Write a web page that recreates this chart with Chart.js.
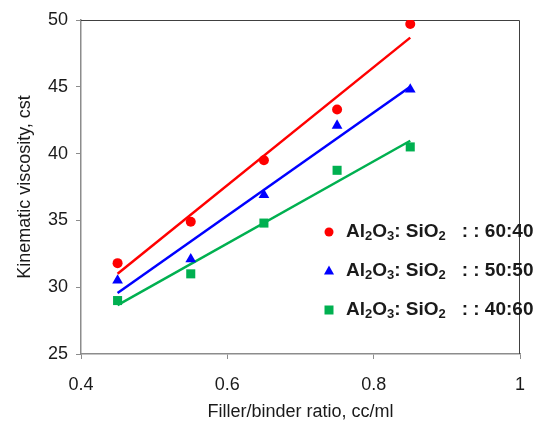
<!DOCTYPE html>
<html><head><meta charset="utf-8">
<script src="https://cdn.jsdelivr.net/npm/chart.js@4.4.0/dist/chart.umd.min.js"></script>
<style>html,body{margin:0;padding:0;background:#fff}#wrap{width:560px;height:423px}</style>
</head><body><div id="wrap"><canvas id="c" width="560" height="423"></canvas></div>
<script>
const xValues = [0.45, 0.55, 0.65, 0.75, 0.85];
const series6040 = [31.8, 34.9, 39.5, 43.3, 49.7];
const series5050 = [30.5, 32.1, 36.9, 42.1, 44.8];
const series4060 = [29.0, 31.0, 34.8, 38.75, 40.5];
const seriesLabels = ['Al₂O₃: SiO₂   : : 60:40', 'Al₂O₃: SiO₂   : : 50:50', 'Al₂O₃: SiO₂   : : 40:60'];
const seriesColors = ['#ff0000', '#0000ff', '#00b050'];
const seriesShapes = ['circle', 'triangle', 'rect'];
const xTicks = [0.4, 0.6, 0.8, 1];
const yTicks = [25, 30, 35, 40, 45, 50];
const xTitle = 'Filler/binder ratio, cc/ml';
const yTitle = 'Kinematic viscosity, cst';

const allSeries = [series6040, series5050, series4060];
const FONT = "'Liberation Sans', Arial, sans-serif";

function linFit(xs, ys) {
  const n = xs.length;
  const mx = xs.reduce((a, b) => a + b, 0) / n;
  const my = ys.reduce((a, b) => a + b, 0) / n;
  let sxy = 0, sxx = 0;
  for (let i = 0; i < n; i++) { sxy += (xs[i] - mx) * (ys[i] - my); sxx += (xs[i] - mx) ** 2; }
  const b = sxy / sxx, a = my - b * mx;
  const x0 = xs[0], x1 = xs[n - 1];
  return [{x: x0, y: a + b * x0}, {x: x1, y: a + b * x1}];
}

const datasets = [];
allSeries.forEach((ys, i) => {
  datasets.push({
    type: 'line', label: seriesLabels[i] + ' trend', data: linFit(xValues, ys),
    borderColor: seriesColors[i], borderWidth: 2.5, pointRadius: 0, showLine: true, fill: false, order: 2
  });
});
const radii = [5, 6.2, 6.4];
allSeries.forEach((ys, i) => {
  datasets.push({
    type: 'scatter', label: seriesLabels[i], data: xValues.map((x, j) => ({x: x, y: ys[j]})),
    backgroundColor: seriesColors[i], borderColor: seriesColors[i], borderWidth: 0,
    pointStyle: seriesShapes[i], pointRadius: radii[i], showLine: false, order: 1
  });
});

const boxPlugin = {
  id: 'box',
  beforeDatasetsDraw(chart) {
    const {ctx, chartArea: a} = chart;
    ctx.save();
    ctx.strokeStyle = '#404040'; ctx.lineWidth = 1;
    ctx.beginPath();
    ctx.moveTo(a.left, a.top + 0.5); ctx.lineTo(a.right - 0.5, a.top + 0.5); ctx.lineTo(a.right - 0.5, a.bottom);
    ctx.stroke();
    ctx.restore();
  }
};

function drawMarker(ctx, shape, x, y, color) {
  ctx.fillStyle = color;
  ctx.beginPath();
  if (shape === 'circle') { ctx.arc(x, y, 4.5, 0, Math.PI * 2); }
  else if (shape === 'triangle') { ctx.moveTo(x, y - 5.5); ctx.lineTo(x + 5, y + 3.5); ctx.lineTo(x - 5, y + 3.5); ctx.closePath(); }
  else { ctx.rect(x - 4.5, y - 4.5, 9, 9); }
  ctx.fill();
}

const legendPlugin = {
  id: 'customLegend',
  afterDraw(chart) {
    const ctx = chart.ctx;
    ctx.save();
    seriesLabels.forEach((label, i) => {
      const y = 232 + i * 39;
      drawMarker(ctx, seriesShapes[i], 329, y, seriesColors[i]);
      let x = 346;
      ctx.fillStyle = '#1a1a1a';
      ctx.textBaseline = 'middle';
      ctx.textAlign = 'left';
      for (const ch of label) {
        const sub = {'₂': '2', '₃': '3'}[ch];
        if (sub) {
          ctx.font = 'bold 13px ' + FONT;
          ctx.fillText(sub, x, y + 4);
          x += ctx.measureText(sub).width;
        } else {
          ctx.font = 'bold 19px ' + FONT;
          ctx.fillText(ch, x, y);
          x += ctx.measureText(ch).width;
        }
      }
    });
    ctx.restore();
  }
};

new Chart(document.getElementById('c'), {
  data: {datasets},
  options: {
    responsive: false, devicePixelRatio: 1, animation: false,
    layout: {padding: {top: 20, right: 40, left: 0, bottom: 0}},
    plugins: {legend: {display: false}, tooltip: {enabled: false}},
    scales: {
      x: {
        type: 'linear', min: 0.4, max: 1,
        afterBuildTicks(s) { s.ticks = xTicks.map(v => ({value: v})); },
        afterFit(s) { s.height = 69; },
        grid: {drawOnChartArea: false, drawTicks: true, tickLength: 5, color: '#8c8c8c'},
        border: {color: '#8c8c8c', width: 1.5},
        ticks: {padding: 15, color: '#1a1a1a', font: {family: FONT, size: 18}, maxRotation: 0,
          callback: v => String(Number(v.toFixed(1)))},
        title: {display: true, text: xTitle, color: '#1a1a1a', font: {family: FONT, size: 18}, padding: {top: 0, bottom: 0}}
      },
      y: {
        type: 'linear', min: 25, max: 50,
        afterBuildTicks(s) { s.ticks = yTicks.map(v => ({value: v})); },
        afterFit(s) { s.width = 81; },
        grid: {drawOnChartArea: false, drawTicks: true, tickLength: 5, color: '#8c8c8c'},
        border: {color: '#8c8c8c', width: 1.5},
        ticks: {padding: 8, color: '#1a1a1a', font: {family: FONT, size: 18}},
        title: {display: true, text: yTitle, color: '#1a1a1a', font: {family: FONT, size: 18}, padding: {top: 14, bottom: 0}}
      }
    }
  },
  plugins: [boxPlugin, legendPlugin]
});
</script></body></html>
